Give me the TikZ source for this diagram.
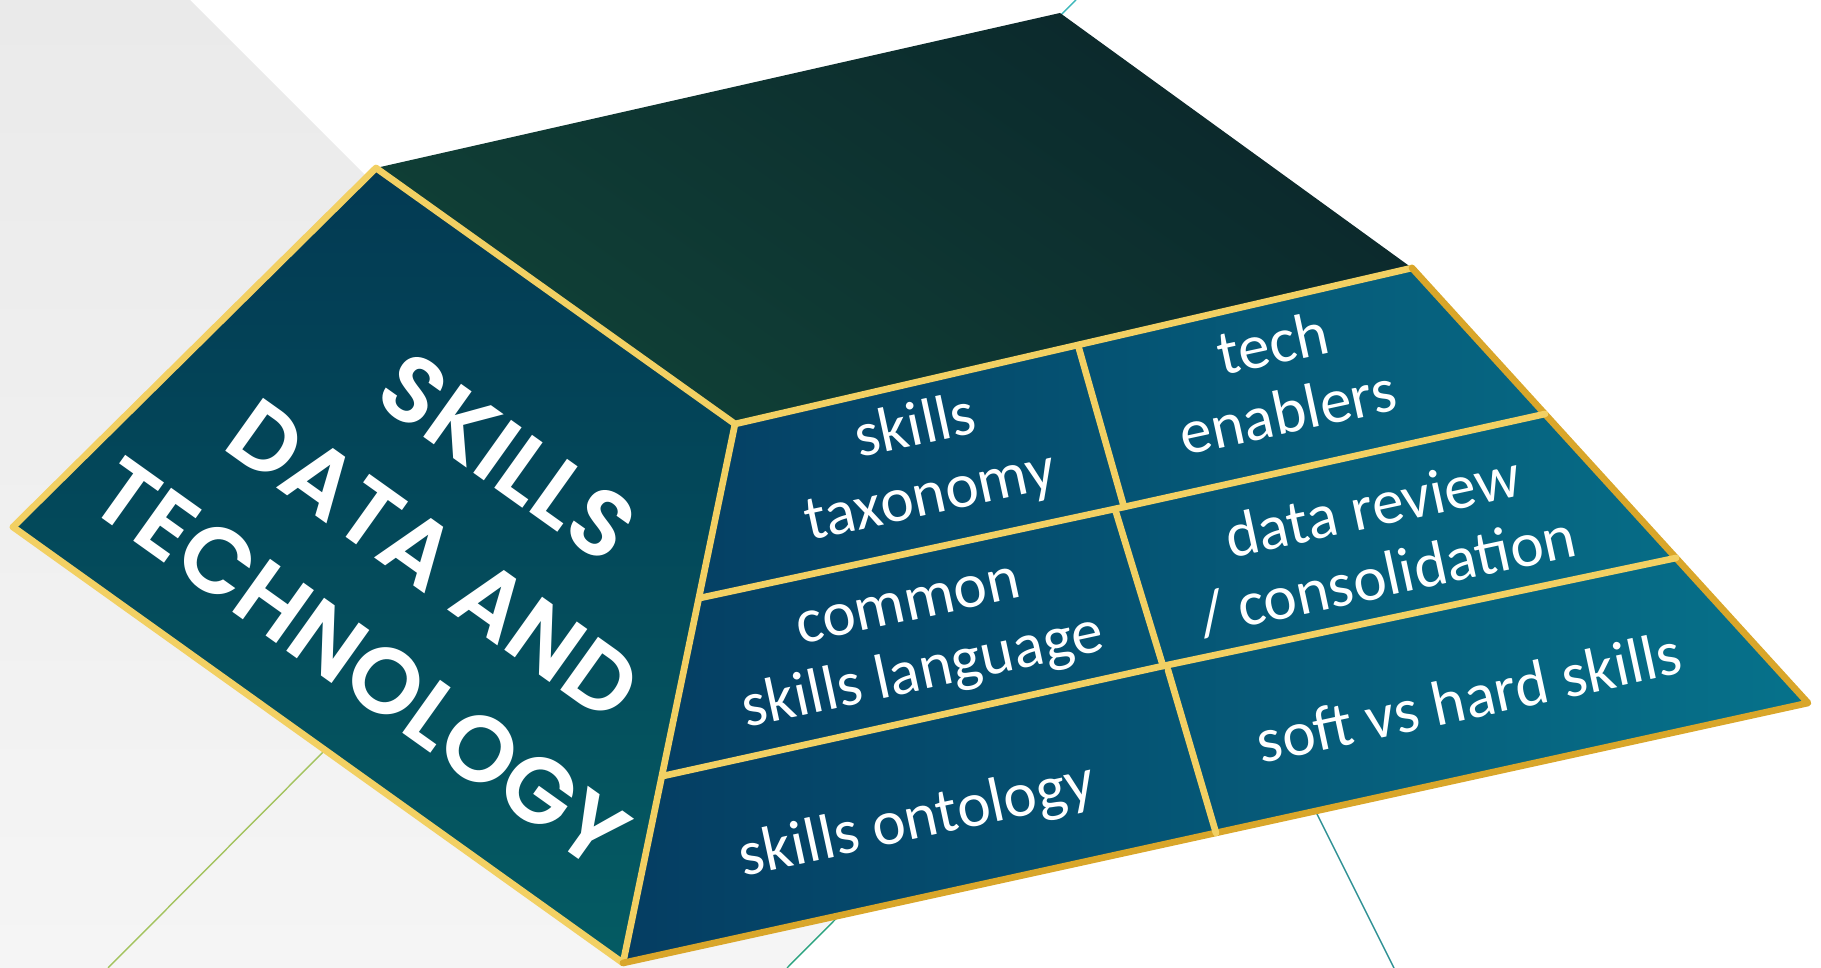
\documentclass[tikz,border=0pt]{standalone}
\usepackage{fontspec}
\setmainfont{Carlito}
\newfontfamily\titlefont{Poppins SemiBold}
\usetikzlibrary{calc}

\definecolor{paper}{HTML}{EAEAEA}
\definecolor{paperlight}{HTML}{F5F5F5}
\definecolor{topdark}{HTML}{0B272B}
\definecolor{topgreen}{HTML}{104137}
\definecolor{sidetop}{HTML}{033A53}
\definecolor{sidebottom}{HTML}{045B63}
\definecolor{frontleft}{HTML}{053D62}
\definecolor{frontright}{HTML}{06728B}
\definecolor{goldlight}{HTML}{F2D063}
\definecolor{golddark}{HTML}{D9A62A}
\definecolor{tealline}{HTML}{3DB7BA}
\definecolor{greenline}{HTML}{A3C35E}
\definecolor{mintline}{HTML}{2BA37F}

\tikzstyle{gold edge} = [draw=goldlight, line width=1.9pt, line cap=round, line join=round]
\tikzstyle{dark gold edge} = [gold edge, draw=golddark]
\tikzstyle{hairline} = [draw, line width=0.4pt]
\tikzstyle{cell label} = [text=white, align=center, inner sep=0pt, rotate=12.2, font=\fontsize{18}{20}\selectfont]
\tikzstyle{title label} = [text=white, align=center, inner sep=0pt, rotate=-35.5, font=\titlefont\fontsize{26.5}{36}\selectfont]

\begin{document}
\begin{tikzpicture}[x=0.01cm, y=-0.01cm]
    \useasboundingbox (0,0) rectangle (1821,968);
    % Background: grey plate and the thin lines behind the block
    \shade[top color=paper, bottom color=paperlight] (0,0) -- (190,0) -- (972,782) -- (787,968) -- (0,968) -- cycle;
    \draw[hairline, greenline] (108,968) -- (590,484);
    \draw[hairline, tealline] (590,484) -- (1076,0);
    \draw[hairline, mintline] (787,968) -- (972,782);
    \draw[hairline, tealline!80!black] (1394,968) -- (1200,580);
    % Corners of the block
    \coordinate (A) at (376,168);
    \coordinate (B) at (1060,13);
    \coordinate (C) at (1412,268);
    \coordinate (D) at (735,424);
    \coordinate (E) at (13,527);
    \coordinate (F) at (623,963);
    \coordinate (G) at (1808,703);
    % End points of the grid on the front face
    \coordinate (V0) at (1078,345);
    \coordinate (V1) at (1124,507);
    \coordinate (V1b) at (1115,509);
    \coordinate (V2) at (1163,666);
    \coordinate (V2b) at (1168,670);
    \coordinate (V3) at (1216,833);
    \coordinate (H1l) at (700,598);
    \coordinate (H1r) at (1545,414);
    \coordinate (H2l) at (663,776);
    \coordinate (H2r) at (1676,558);
    % Faces
    \shade[top color=sidetop, bottom color=sidebottom] (A) -- (D) -- (F) -- (E) -- cycle;
    \shade[top color=topdark, bottom color=topgreen, shading angle=-35] (A) -- (B) -- (C) -- (D) -- cycle;
    \shade[left color=frontleft, right color=frontright] (D) -- (C) -- (G) -- (F) -- cycle;
    % Gold edges
    \draw[gold edge] (E) -- (A) -- (D) -- (C);
    \draw[gold edge] (E) -- (F) -- (D);
    \draw[dark gold edge] (C) -- (G) -- (F);
    \draw[gold edge] (H1l) -- (V1) -- (H1r);
    \draw[gold edge] (H2l) -- (V2) -- (H2r);
    \draw[gold edge] (V0) -- (V1) (V1b) -- (V2) (V2b) -- (V3);
    % Texts
    \node[title label] (heading) at (434,560) {SKILLS\\DATA AND\\TECHNOLOGY};
    \foreach \pos/\name/\words in {{(923,463)/taxonomy/{skills\\taxonomy}},{(1280,377)/enablers/{tech\\enablers}},
        {(917,645)/language/{common\\skills language}},{(1380,541)/review/{data review\\/ consolidation}},
        {(917,822)/ontology/{skills ontology}},{(1469,697)/softhard/{soft vs hard skills}}}
        \node[cell label] (\name) at \pos {\words};
\end{tikzpicture}
\end{document}
